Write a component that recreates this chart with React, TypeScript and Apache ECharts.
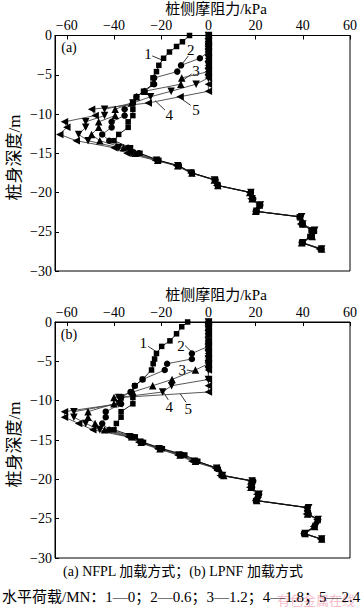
import React, { useEffect, useRef } from "react";
import * as echarts from "echarts";

const FONT = '"Liberation Serif", "Noto Sans CJK SC", serif';

const xTicks = [-60, -40, -20, 0, 20, 40, 60];
const seriesNames = ["1", "2", "3", "4", "5"];

// panel (a) NFPL
const depthA = [0, -0.8, -1.4, -2.1, -2.9, -3.8, -4.6, -5.4, -6.2, -7.1, -7.8, -8.6, -9.4, -10.2, -11.0, -11.7, -12.6, -13.4, -14.3, -15.0, -15.9, -16.6, -17.5, -18.4, -19.1, -20.0, -20.8, -21.6, -22.4, -23.1, -24.0, -24.8, -25.6, -26.4, -27.2];
const a1 = [-8, -11, -13.5, -16.5, -19, -21, -22, -23.5, -23.5, -27.5, -30.5, -32, -32, -32, -34, -34, -38, -40, -33, -29, -21, -12.5, -7, 3, 4, 18, 18.5, 21.5, 20, 38.5, 39.5, 43.5, 43, 39.5, 47.5];
const a2 = [0, 0, 0, 0, -3.6, -11.6, -13.2, -23, -23, -27, -30.5, -32, -35.5, -35.5, -41, -41, -45, -42, -34, -29.5, -21.5, -12.5, -7, 3, 4, 18, 19, 22, 20.5, 39, 40, 44, 43.5, 40, 48];
const a3 = [0, 0, 0, 0, 0, 0, 0, -11.3, -11.7, -27, -30.5, -32.5, -39.5, -39.5, -46.5, -46.5, -49.5, -46, -36, -31, -21.5, -13, -7, 2.5, 4, 17.5, 18.5, 21.5, 20, 39, 40, 44.5, 44, 39.5, 48];
const a4 = [0, 0, 0, 0, 0, 0, 0, 0, -5.2, -15.8, -24.5, -32, -44, -44, -52, -52, -55, -51, -38, -32.5, -22, -13, -7.5, 2.5, 3.5, 18, 18.5, 22, 20.5, 39.5, 40, 45, 44, 40, 48];
const a5 = [0, 0, 0, 0, 0, 0, 0, 0, 0, 0, -12, -25.5, -49.5, -48, -61, -60, -63, -56, -40, -34.5, -22.5, -13.5, -7.5, 2.5, 3.5, 17.5, 18, 21.5, 20, 38.5, 39, 44.5, 43.5, 39.5, 47];

// panel (b) LPNF
const depthB = [0, -0.6, -1.5, -2.4, -3.1, -4.0, -4.7, -5.3, -6.1, -7.3, -8.1, -8.9, -9.6, -10.4, -11.4, -12.1, -12.9, -13.7, -14.6, -15.3, -16.1, -16.9, -17.7, -18.6, -19.5, -20.2, -21.0, -21.9, -22.7, -23.6, -24.4, -25.1, -26.0, -26.9, -27.6];
const b1 = [-8.8, -11.3, -13.5, -16.3, -19.8, -22, -22.8, -23.4, -24.1, -27.9, -31.2, -32.6, -32, -32, -37, -37, -39, -40, -31, -27.5, -19.5, -10, -4.5, 3.5, 5.5, 18.7, 18, 21, 20, 42, 42, 46.5, 45, 40.5, 48];
const b2 = [0, 0, 0, 0, 0, -7, -7, -17.5, -18.5, -27.9, -31.2, -33, -37, -37, -43.5, -43.5, -45, -42, -32, -28, -20, -11, -5, 4, 6, 19, 18.5, 21.5, 20.5, 42, 42.5, 46.5, 45, 40.5, 48];
const b3 = [0, 0, 0, 0, 0, 0, 0, 0, -5.5, -15.4, -23.6, -32, -40, -40, -51, -51, -48, -44, -32.5, -28.5, -20.5, -12, -5.5, 4.5, 6.5, 18, 18, 21, 20.5, 42, 42, 46, 45, 41, 48];
const b4 = [0, 0, 0, 0, 0, 0, 0, 0, 0, 0, -15.6, -19.4, -38, -38, -57, -57, -52, -46, -33.5, -29, -21, -12.5, -6, 3.5, 6, 18.5, 18.5, 21.5, 21, 42.5, 42, 46.5, 45.5, 41, 48];
const b5 = [0, 0, 0, 0, 0, 0, 0, 0, 0, 0, 0, 0, -37.5, -38, -61, -61, -55, -49, -34, -29.5, -21.5, -13, -7, 3, 5, 18, 17.5, 20.5, 20, 41.5, 41.5, 46, 44.5, 40.5, 47.5];

// curve labels: [label, textPos, leaderFrom, leaderTo] in data coordinates
const annotA: [string, number[], number[], number[]][] = [
  ["1", [-25.6, -2.3], [-23.8, -2.6], [-19.8, -3.1]],
  ["2", [-7.5, -1.9], [-8.5, -2.6], [-11.3, -3.7]],
  ["3", [-5.3, -4.5], [-7.1, -4.9], [-10.3, -5.6]],
  ["4", [-16.6, -10.1], [-18.4, -9.5], [-22.6, -8.3]],
  ["5", [-5.3, -9.5], [-7.5, -8.9], [-11.7, -8.0]],
];
const annotB: [string, number[], number[], number[]][] = [
  ["1", [-27.6, -2.7], [-25.5, -3.1], [-21.9, -3.8]],
  ["2", [-11.6, -3.0], [-9.9, -3.0], [-7.1, -3.8]],
  ["3", [-11.1, -6.1], [-9.2, -6.1], [-5.7, -6.3]],
  ["4", [-16.6, -10.8], [-17.0, -9.9], [-19.1, -8.9]],
  ["5", [-8.5, -11.0], [-9.5, -10.2], [-12.0, -9.1]],
];

const markers = [
  { symbol: "rect", rotate: 0, size: 5.5 },
  { symbol: "circle", rotate: 0, size: 6.5 },
  { symbol: "triangle", rotate: 0, size: 7.5 },
  { symbol: "triangle", rotate: 180, size: 7.5 },
  { symbol: "triangle", rotate: 90, size: 7.5 },
];
const lineColors = ["#000", "#444", "#444", "#444", "#444"];

const fmt = (v: number) => String(v).replace("-", "\u2212");

export default function App() {
  const ref = useRef<HTMLDivElement>(null);
  useEffect(() => {
    if (!ref.current) return;
    const chart = echarts.init(ref.current, undefined, { renderer: "svg" });
    const grids = [
      { left: 55, top: 35.5, width: 295, height: 235.5 },
      { left: 55, top: 322, width: 295, height: 236 },
    ];
    const xAxes = grids.map((_, i) => ({
      type: "value",
      gridIndex: i,
      position: "top",
      min: -65,
      max: 60,
      axisLine: { show: true, onZero: false, lineStyle: { color: "#000", width: 1 } },
      axisTick: { show: true, inside: true, length: 4, customValues: xTicks, lineStyle: { color: "#000" } },
      axisLabel: { customValues: xTicks, margin: 3, color: "#000", fontFamily: FONT, fontSize: 14, formatter: fmt },
      splitLine: { show: false },
    }));
    const yAxes = grids.map((_, i) => ({
      type: "value",
      gridIndex: i,
      position: "left",
      min: -30,
      max: 0,
      interval: 5,
      axisLine: { show: true, onZero: false, lineStyle: { color: "#000", width: 1 } },
      axisTick: { show: true, inside: true, length: 4, lineStyle: { color: "#000" } },
      axisLabel: { margin: 3, color: "#000", fontFamily: FONT, fontSize: 14, formatter: fmt },
      splitLine: { show: false },
    }));
    const panels = [
      { depth: depthA, vals: [a1, a2, a3, a4, a5] },
      { depth: depthB, vals: [b1, b2, b3, b4, b5] },
    ];
    const series: any[] = [];
    panels.forEach((p, gi) => {
      p.vals.forEach((vals, si) => {
        const m = markers[si];
        series.push({
          type: "line",
          name: seriesNames[si],
          xAxisIndex: gi,
          yAxisIndex: gi,
          data: vals.map((v, k) => [v, p.depth[k]]),
          symbol: m.symbol,
          symbolSize: m.size,
          symbolRotate: m.rotate,
          showSymbol: true,
          itemStyle: { color: "#000", borderWidth: 0 },
          lineStyle: { color: lineColors[si], width: 0.9 },
          z: 2 + (si === 0 ? 1 : 0),
        });
      });
    });
    chart.setOption({
      animation: false,
      backgroundColor: "#fff",
      grid: grids.map((g) => ({ ...g, show: true, borderColor: "#000", borderWidth: 1, backgroundColor: "transparent" })),
      xAxis: xAxes,
      yAxis: yAxes,
      series,
    });

    const graphic: any[] = [];
    const txt = (text: string, x: number, y: number, size: number, extra: any = {}) => ({
      type: "text",
      x,
      y,
      ...extra,
      style: { text, fill: extra.fill || "#000", fontSize: size, fontFamily: FONT, align: extra.align || "center", verticalAlign: "middle" },
    });
    [annotA, annotB].forEach((ann, gi) => {
      ann.forEach(([label, tp, f, t]) => {
        const p = chart.convertToPixel({ xAxisIndex: gi, yAxisIndex: gi }, tp) as number[];
        const pf = chart.convertToPixel({ xAxisIndex: gi, yAxisIndex: gi }, f) as number[];
        const pt = chart.convertToPixel({ xAxisIndex: gi, yAxisIndex: gi }, t) as number[];
        graphic.push(txt(label, p[0], p[1], 15));
        graphic.push({
          type: "line",
          shape: { x1: pf[0], y1: pf[1], x2: pt[0], y2: pt[1] },
          style: { stroke: "#000", lineWidth: 0.8 },
        });
      });
      const lp = chart.convertToPixel({ xAxisIndex: gi, yAxisIndex: gi }, [-65, 0]) as number[];
      graphic.push(txt(gi === 0 ? "(a)" : "(b)", lp[0] + 14, lp[1] + 12, 14));
    });
    graphic.push(txt("桩侧摩阻力/kPa", 216, 8.5, 15));
    graphic.push(txt("桩侧摩阻力/kPa", 216, 294.5, 15));
    graphic.push(txt("桩身深度/m", 14, 157.5, 17, { rotation: Math.PI / 2 }));
    graphic.push(txt("桩身深度/m", 14, 444.5, 17, { rotation: Math.PI / 2 }));
    graphic.push(txt("(a) NFPL 加载方式；(b) LPNF 加载方式", 183, 571, 14));
    graphic.push(txt("水平荷载/MN：1—0；2—0.6；3—1.2；4—1.8；5—2.4", 2, 597, 15, { align: "left" }));
    graphic.push(txt("有色金属在线", 316, 600, 13, { fill: "rgba(235,120,150,0.5)", z: -1 }));
    chart.setOption({ graphic });

    return () => chart.dispose();
  }, []);
  return <div ref={ref} style={{ position: "fixed", left: 0, top: 0, width: 363, height: 608 }} />;
}
